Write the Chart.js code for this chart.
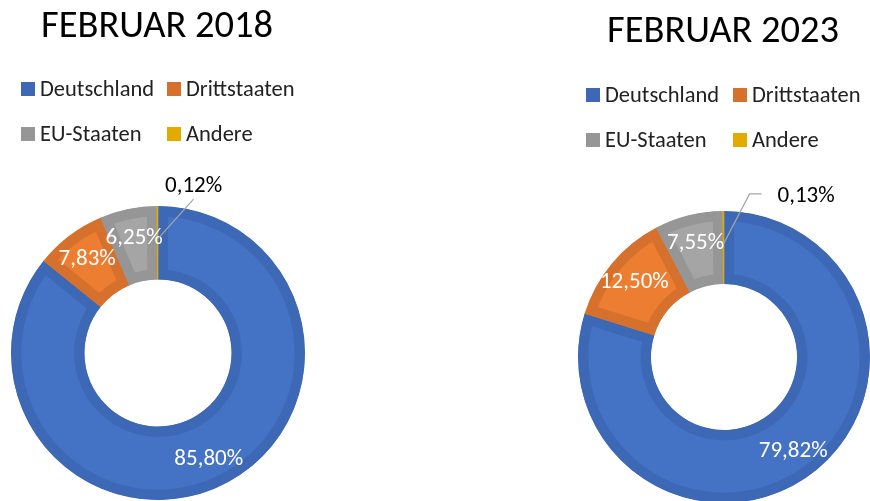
<!DOCTYPE html>
<html>
<head>
<meta charset="utf-8">
<script src="https://cdn.jsdelivr.net/npm/chart.js@4.4.1/dist/chart.umd.min.js"></script>
<style>
  html, body { margin: 0; padding: 0; background: #fff; overflow: hidden; width: 870px; height: 501px; }
  canvas { position: absolute; top: 0; }
  #c2018 { left: 0; }
  #c2023 { left: 435px; }
</style>
</head>
<body>
<canvas id="c2018" width="435" height="520"></canvas>
<canvas id="c2023" width="435" height="520"></canvas>
<script>
// Daten
const categories = ['Deutschland', 'Drittstaaten', 'EU-Staaten', 'Andere'];
const values2018 = [85.80, 7.83, 6.25, 0.12];
const values2023 = [79.82, 12.50, 7.55, 0.13];
const titles = ['FEBRUAR 2018', 'FEBRUAR 2023'];

const fillColors = ['#4472C4', '#ED7D31', '#A5A5A5', '#FFC000'];
const edgeColors = ['#3D68B6', '#D5712D', '#969696', '#E3AB00'];
const FONT = 'Carlito, Calibri, Lato, sans-serif';

function fmt(v) {
  return v.toFixed(2).replace('.', ',') + '%';
}

// Titel, Legende (2x2 wie Excel) und Datenbeschriftungen
const excelLook = {
  id: 'excelLook',
  afterDatasetsDraw(chart, args, opts) {
    const ctx = chart.ctx;
    const meta = chart.getDatasetMeta(0);
    const vals = chart.data.datasets[0].data;
    ctx.save();
    meta.data.forEach((arc, i) => {
      const p = arc.getProps(['x', 'y', 'startAngle', 'endAngle', 'innerRadius', 'outerRadius'], true);
      const mid = (p.startAngle + p.endAngle) / 2;
      const ring = p.outerRadius - p.innerRadius;
      const out = opts.outside && opts.outside.index === i ? opts.outside : null;
      if (out) {
        const r = p.innerRadius + ring * 0.55;
        const ax = p.x + Math.cos(mid) * r, ay = p.y + Math.sin(mid) * r;
        const ex = ax + out.dx, ey = ay + out.dy;
        ctx.strokeStyle = '#A5A5A5';
        ctx.lineWidth = 1.2;
        ctx.beginPath();
        ctx.moveTo(ax, ay);
        ctx.lineTo(ex, ey);
        ctx.lineTo(ex + out.hx, ey);
        ctx.stroke();
        ctx.fillStyle = '#000';
        ctx.font = opts.labelFont;
        ctx.textAlign = out.align;
        ctx.textBaseline = 'alphabetic';
        ctx.fillText(fmt(vals[i]), ex + out.hx + out.tx, ey + out.ty);
      } else {
        const r = p.innerRadius + ring * 0.6;
        ctx.fillStyle = '#fff';
        ctx.font = opts.labelFont;
        ctx.textAlign = 'center';
        ctx.textBaseline = 'middle';
        ctx.fillText(fmt(vals[i]), p.x + Math.cos(mid) * r, p.y + Math.sin(mid) * r);
      }
    });
    ctx.restore();
  },
  afterDraw(chart, args, opts) {
    const ctx = chart.ctx;
    ctx.save();
    ctx.fillStyle = '#000';
    ctx.textAlign = 'left';
    ctx.textBaseline = 'alphabetic';
    ctx.font = opts.titleFont;
    ctx.fillText(opts.title, opts.titleX, opts.titleY);

    ctx.font = opts.legendFont;
    chart.data.labels.forEach((lab, i) => {
      const x = opts.legendX + (i % 2) * opts.colGap;
      const y = opts.legendY + Math.floor(i / 2) * opts.rowGap;
      ctx.fillStyle = edgeColors[i];
      ctx.fillRect(x, y, 14, 14);
      ctx.fillStyle = '#222';
      ctx.fillText(lab, x + 19, y + 14);
    });
    ctx.restore();
  }
};

function makeDonut(id, values, look, padding) {
  return new Chart(document.getElementById(id), {
    type: 'doughnut',
    data: {
      labels: categories,
      datasets: [{
        data: values,
        backgroundColor: fillColors,
        borderColor: edgeColors,
        borderWidth: 10,
        borderAlign: 'inner',
        hoverOffset: 0,
        offset: 0
      }]
    },
    options: {
      responsive: false,
      animation: false,
      cutout: '50%',
      layout: { padding: padding },
      events: [],
      plugins: {
        legend: { display: false },
        tooltip: { enabled: false },
        excelLook: look
      }
    },
    plugins: [excelLook]
  });
}

makeDonut('c2018', values2018, {
  title: titles[0], titleX: 41, titleY: 37, titleFont: '38.5px ' + FONT,
  legendX: 21, legendY: 82, colGap: 146, rowGap: 45, legendFont: '22.5px ' + FONT,
  labelFont: '23px ' + FONT,
  outside: { index: 3, dx: 36, dy: -40, hx: 0, align: 'center', tx: 0, ty: -7 }
}, { left: 11, top: 206, right: 130, bottom: 20 });

makeDonut('c2023', values2023, {
  title: titles[1], titleX: 172, titleY: 42, titleFont: '38.5px ' + FONT,
  legendX: 151, legendY: 88, colGap: 147, rowGap: 45, legendFont: '22.5px ' + FONT,
  labelFont: '23px ' + FONT,
  outside: { index: 3, dx: 26, dy: -50, hx: 12, align: 'left', tx: 16, ty: 8 }
}, { left: 143, top: 211, right: 0, bottom: 17 });
</script>
</body>
</html>
